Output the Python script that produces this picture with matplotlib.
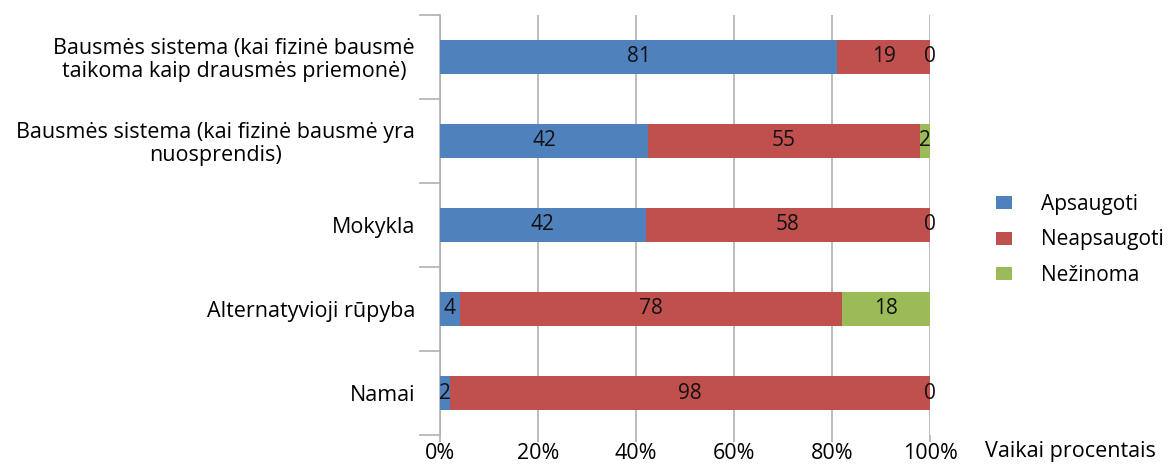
import numpy as np
import matplotlib.pyplot as plt
from matplotlib.ticker import FixedLocator, PercentFormatter

categories = [
    'Bausmės sistema (kai fizinė bausmė\ntaikoma kaip drausmės priemonė)',
    'Bausmės sistema (kai fizinė bausmė yra\nnuosprendis)',
    'Mokykla',
    'Alternatyvioji rūpyba',
    'Namai',
]
series = ['Apsaugoti', 'Neapsaugoti', 'Nežinoma']
apsaugoti = [81, 42, 42, 4, 2]
neapsaugoti = [19, 55, 58, 78, 98]
nezinoma = [0, 2, 0, 18, 0]
colors = ['#4F81BD', '#C0504D', '#9BBB59']

plt.rcParams['font.family'] = ['Open Sans', 'DejaVu Sans']

vals = np.array([apsaugoti, neapsaugoti, nezinoma], dtype=float)
shares = vals / vals.sum(axis=0) * 100  # 100% stacked

fig = plt.figure(figsize=(11.69, 4.67), dpi=100)
ax = fig.add_axes([0.3764, 0.0685, 0.4192, 0.8995])

y = np.arange(len(categories))
left = np.zeros(len(categories))
for i, name in enumerate(series):
    ax.barh(y, shares[i], left=left, height=0.4, color=colors[i], label=name, zorder=3)
    for j in range(len(categories)):
        cx = left[j] + shares[i][j] / 2
        if vals[i][j] == 0:
            cx = 100
        ax.text(cx, y[j], f'{vals[i][j]:.0f}', ha='center', va='center',
                fontsize=15, color='#111111', zorder=4)
    left += shares[i]

ax.set_xlim(0, 100)
ax.set_ylim(len(categories) - 0.5, -0.5)
ax.xaxis.set_major_locator(FixedLocator([0, 20, 40, 60, 80, 100]))
ax.xaxis.set_major_formatter(PercentFormatter(decimals=0))
ax.grid(axis='x', color='#b0b0b0', linewidth=1.2, zorder=0)
ax.set_yticks(y)
ax.set_yticklabels(categories, fontsize=15.5, multialignment='center',
                   linespacing=1.1)
ax.set_yticks(np.arange(len(categories) + 1) - 0.5, minor=True)
ax.tick_params(axis='y', which='major', length=0, pad=18)
ax.tick_params(axis='y', which='minor', length=15, color='#b0b0b0', width=1.2)
ax.tick_params(axis='x', length=5, color='#b0b0b0', width=1.2, labelsize=15.5, pad=1)
for s in ['top', 'right', 'bottom']:
    ax.spines[s].set_visible(False)
ax.spines['left'].set_color('#b0b0b0')
ax.spines['left'].set_linewidth(1.2)

fig.text(985 / 1169, 1 - 452 / 467, 'Vaikai procentais', fontsize=15.5,
         ha='left', va='center')

ax.legend(loc='center left', bbox_to_anchor=(996 / 1169, 1 - 240 / 467),
          bbox_transform=fig.transFigure, frameon=False, borderpad=0,
          borderaxespad=0, fontsize=15, handlelength=0.75, handleheight=0.6,
          labelspacing=0.7, handletextpad=1.4)

fig.savefig('out.png', dpi=100)
